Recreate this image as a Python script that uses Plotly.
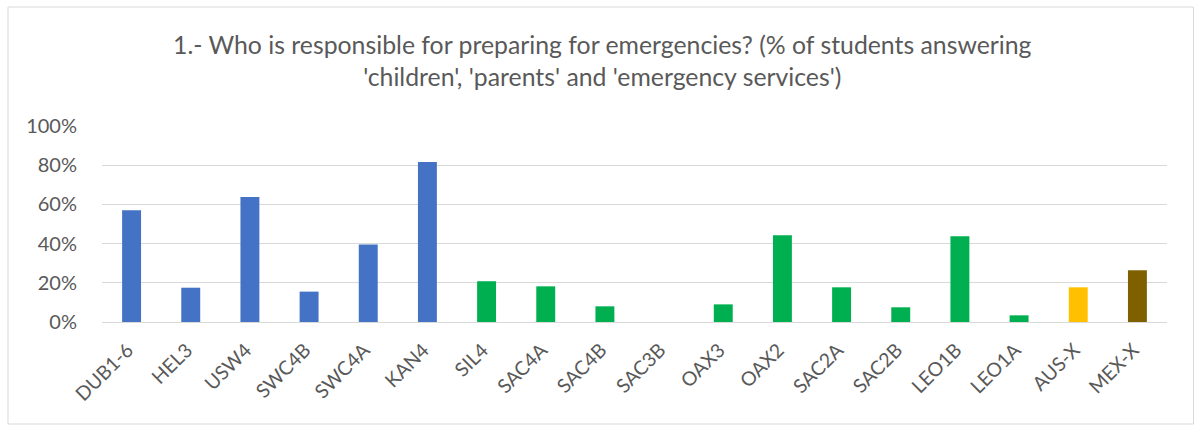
import plotly.graph_objects as go

categories = ["DUB1-6", "HEL3", "USW4", "SWC4B", "SWC4A", "KAN4", "SIL4", "SAC4A",
              "SAC4B", "SAC3B", "OAX3", "OAX2", "SAC2A", "SAC2B", "LEO1B", "LEO1A",
              "AUS-X", "MEX-X"]
values = [0.57, 0.175, 0.638, 0.155, 0.396, 0.816, 0.208, 0.182,
          0.08, 0.0, 0.09, 0.442, 0.177, 0.075, 0.437, 0.034,
          0.177, 0.264]
groups = ["blue"] * 6 + ["green"] * 10 + ["yellow", "brown"]
palette = {"blue": "#4472C4", "green": "#00B050", "yellow": "#FFC000", "brown": "#7F6000"}
y_ticks = [0, 0.2, 0.4, 0.6, 0.8, 1.0]
title_text = ("1.- Who is responsible for preparing for emergencies? (% of students answering<br>"
              "'children', 'parents' and 'emergency services')")

W, H = 1195, 425
L, R, T, B = 102, 28, 126, 103

fig = go.Figure(go.Bar(
    x=categories, y=values,
    marker=dict(color=[palette[g] for g in groups], line=dict(width=0)),
    width=0.32,
))

font_family = "Lato, 'Open Sans', sans-serif"

fig.update_layout(
    width=W, height=H,
    margin=dict(l=L, r=R, t=T, b=B, autoexpand=False),
    paper_bgcolor="white", plot_bgcolor="white",
    showlegend=False,
    font=dict(family=font_family, color="#595959"),
    title=dict(text=title_text, x=0.504, xanchor="center", y=1 - 54 / H, yanchor="middle",
               font=dict(size=24.8, color="#595959", family=font_family)),
    xaxis=dict(tickangle=-45, tickfont=dict(size=19.5, color="#595959"),
               showgrid=False, showline=False, ticks="", automargin=False,
               ticklabelshift=-4, ticklabelstandoff=12),
    yaxis=dict(range=[0, 1.0], tickvals=y_ticks, tickformat=".0%",
               tickfont=dict(size=20, color="#595959"),
               showgrid=True, gridcolor="#d9d9d9", gridwidth=1.3,
               zeroline=True, zerolinecolor="#d9d9d9", zerolinewidth=1.3,
               showline=False, ticks="", ticklabelstandoff=24, automargin=False),
    bargap=0.68,
)

# outer chart border (thin light gray frame)
pw = W - L - R
ph = H - T - B
def px_to_paper_x(px):
    return (px - L) / pw
def px_to_paper_y(py):
    return (H - B - py) / ph
fig.add_shape(type="rect", xref="paper", yref="paper",
              x0=px_to_paper_x(8), x1=px_to_paper_x(1193.5),
              y0=px_to_paper_y(424), y1=px_to_paper_y(7),
              line=dict(color="#d9d9d9", width=1), fillcolor="rgba(0,0,0,0)", layer="below")

fig.write_html("out.html", config={"displayModeBar": False},
               post_script="document.body.style.margin='0';")
